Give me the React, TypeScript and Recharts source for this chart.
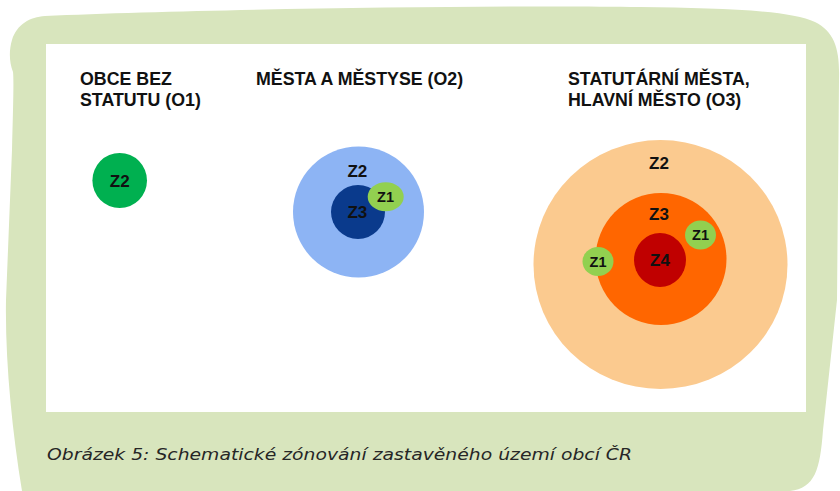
import { ScatterChart, Scatter, XAxis, YAxis, ReferenceArea } from "recharts";

// page + white panel layout (px)
const W = 840;
const H = 491;
const PANEL = { left: 46, top: 44, right: 806, bottom: 412 };
const PANEL_W = PANEL.right - PANEL.left;
const PANEL_H = PANEL.bottom - PANEL.top;

// schematic units: 1 unit = 1 px of the panel
const X_DOMAIN: [number, number] = [0, 760];
const Y_DOMAIN: [number, number] = [0, 368];
const KX = PANEL_W / (X_DOMAIN[1] - X_DOMAIN[0]);
const KY = PANEL_H / (Y_DOMAIN[1] - Y_DOMAIN[0]);

const FONT = "'Liberation Sans', Arial, Helvetica, sans-serif";

// group headings (x, baseline y, text)
const titleX = [34, 34, 210, 522, 522];
const titleY = [41, 62, 41, 41, 62];
const titleText = [
  "OBCE BEZ",
  "STATUTU (O1)",
  "MĚSTA A MĚSTYSE (O2)",
  "STATUTÁRNÍ MĚSTA,",
  "HLAVNÍ MĚSTO (O3)",
];

// zones, back to front
const zoneX = [73.7, 312.5, 312, 339.7, 614.5, 615, 614, 654.5, 552];
const zoneY = [136.5, 168, 168, 152.7, 220.5, 215, 216, 191, 217.5];
const zoneRx = [27.3, 65.5, 27, 18, 127, 65.5, 26, 15.5, 15.5];
const zoneRy = [27.5, 65.5, 27, 14.5, 124.5, 66, 27, 14.5, 14.5];
const zoneColor = [
  "#00b050",
  "#8db4f4", "#0a3a8c", "#92d050",
  "#fbca8f", "#ff6600", "#c00000", "#92d050", "#92d050",
];

// zone labels
const labelX = [73.7, 311.3, 311.3, 339.5, 613, 613, 614, 654.5, 552];
const labelY = [136.5, 126.7, 167.7, 152.5, 119, 170, 216, 191, 217.5];
const labelText = ["Z2", "Z2", "Z3", "Z1", "Z2", "Z3", "Z4", "Z1", "Z1"];
const labelSize = [17, 17, 17, 14.5, 17, 17, 17, 14.5, 14.5];

const CAPTION = "Obrázek 5: Schematické zónování zastavěného území obcí ČR";

const titles = titleText.map((t, i) => ({ x: titleX[i], y: titleY[i], text: t }));
const zones = zoneX.map((x, i) => ({
  x, y: zoneY[i], rx: zoneRx[i], ry: zoneRy[i], fill: zoneColor[i],
}));
const labels = labelText.map((t, i) => ({
  x: labelX[i], y: labelY[i], text: t, size: labelSize[i],
}));

const ZoneShape = (props: any) => {
  const { cx, cy, payload } = props;
  return <ellipse cx={cx} cy={cy} rx={payload.rx * KX} ry={payload.ry * KY} fill={payload.fill} />;
};

const LabelShape = (props: any) => {
  const { cx, cy, payload } = props;
  return (
    <text
      x={cx}
      y={cy}
      dy="0.36em"
      textAnchor="middle"
      style={{ fontFamily: FONT, fontWeight: 700, fontSize: payload.size }}
      fill="#111"
    >
      {payload.text}
    </text>
  );
};

const TitleShape = (props: any) => {
  const { cx, cy, payload } = props;
  return (
    <text x={cx} y={cy} style={{ fontFamily: FONT, fontWeight: 700, fontSize: 17.8 }} fill="#111">
      {payload.text}
    </text>
  );
};

export default function App() {
  return (
    <div style={{ position: "absolute", left: 0, top: 0, width: W, height: H, background: "#fff" }}>
      <svg width={W} height={H} style={{ position: "absolute", left: 0, top: 0 }}>
        <path
          d="M 45 16 C 200 9, 500 5, 640 7 C 720 8, 790 10, 815 22 C 835 32, 840 50, 839 80
             L 837 300 L 823 430 C 820 470, 815 488, 790 491 L 22 491 C 12 430, 5 360, 6 300
             L 12 150 C 13 110, 14 80, 13 72 C 9 62, 9 50, 12 40 C 17 24, 30 17, 45 16 Z"
          fill="#d8e5bd"
        />
        <text
          x={47}
          y={460}
          style={{ fontFamily: "'DejaVu Sans', sans-serif", fontStyle: "italic", fontSize: 15.5 }}
          fill="#262626"
          textLength={585}
          lengthAdjust="spacingAndGlyphs"
        >
          {CAPTION}
        </text>
      </svg>
      <div style={{ position: "absolute", left: 0, top: 0 }}>
        <ScatterChart
          width={W}
          height={H}
          margin={{ top: PANEL.top, left: PANEL.left, right: W - PANEL.right, bottom: H - PANEL.bottom }}
        >
          <XAxis type="number" dataKey="x" domain={X_DOMAIN} hide allowDataOverflow />
          <YAxis type="number" dataKey="y" domain={Y_DOMAIN} reversed hide allowDataOverflow />
          <ReferenceArea
            x1={X_DOMAIN[0]}
            x2={X_DOMAIN[1]}
            y1={Y_DOMAIN[0]}
            y2={Y_DOMAIN[1]}
            fill="#ffffff"
            fillOpacity={1}
            stroke="none"
          />
          <Scatter data={titles} shape={TitleShape} isAnimationActive={false} />
          <Scatter data={zones} shape={ZoneShape} isAnimationActive={false} />
          <Scatter data={labels} shape={LabelShape} isAnimationActive={false} />
        </ScatterChart>
      </div>
    </div>
  );
}
